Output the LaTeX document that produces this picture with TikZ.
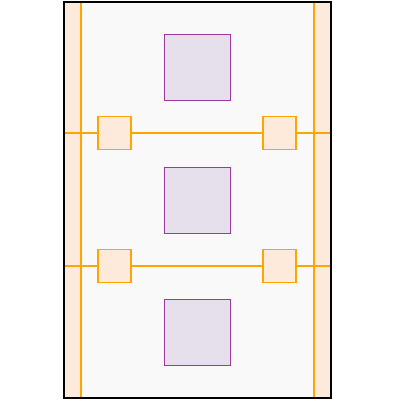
\documentclass[tikz,border=0pt]{standalone}
\usetikzlibrary{calc}
\definecolor{stripfill}{HTML}{FDEADA}
\definecolor{rail}{HTML}{FFA500}
\definecolor{roomfill}{HTML}{E6DFEC}
\definecolor{roomline}{HTML}{9B3A9C}
\definecolor{floorfill}{HTML}{F9F9F9}
\tikzset{
  pad/.style={draw=rail, fill=stripfill, line width=0.8pt, minimum size=33*0.25mm, inner sep=0pt},
  room/.style={draw=roomline, fill=roomfill, line width=0.7pt, minimum size=66*0.25mm, inner sep=0pt},
  railline/.style={draw=rail, line width=1.2pt},
  edgeline/.style={draw=rail, line width=0.8pt}
}
\begin{document}
\begin{tikzpicture}[x=0.25mm, y=-0.25mm]
\useasboundingbox (0, 0) rectangle (400, 400);
% floor and side strips
\fill[floorfill] (64, 2) rectangle (331, 398);
\fill[stripfill] (64, 2) rectangle (81, 398);
\fill[stripfill] (314, 2) rectangle (331, 398);
\draw[edgeline] (81, 2) -- (81, 398);
\draw[edgeline] (314, 2) -- (314, 398);

% rooms
\node[room] (r1) at (197, 67) {};
\node[room] (r2) at (197, 200) {};
\node[room] (r3) at (197, 332.5) {};

% rails with pads
\coordinate (w1) at (64, 133);
\coordinate (e1) at (331, 133);
\coordinate (w2) at (64, 266);
\coordinate (e2) at (331, 266);
\draw[railline] (w1) -- (e1);
\draw[railline] (w2) -- (e2);
\node[pad] (p1) at (114.5, 133) {};
\node[pad] (p2) at (279.5, 133) {};
\node[pad] (p3) at (114.5, 266) {};
\node[pad] (p4) at (279.5, 266) {};

% outer wall
\draw[line width=0.8pt] (64, 2) rectangle (331, 398);
\end{tikzpicture}
\end{document}
